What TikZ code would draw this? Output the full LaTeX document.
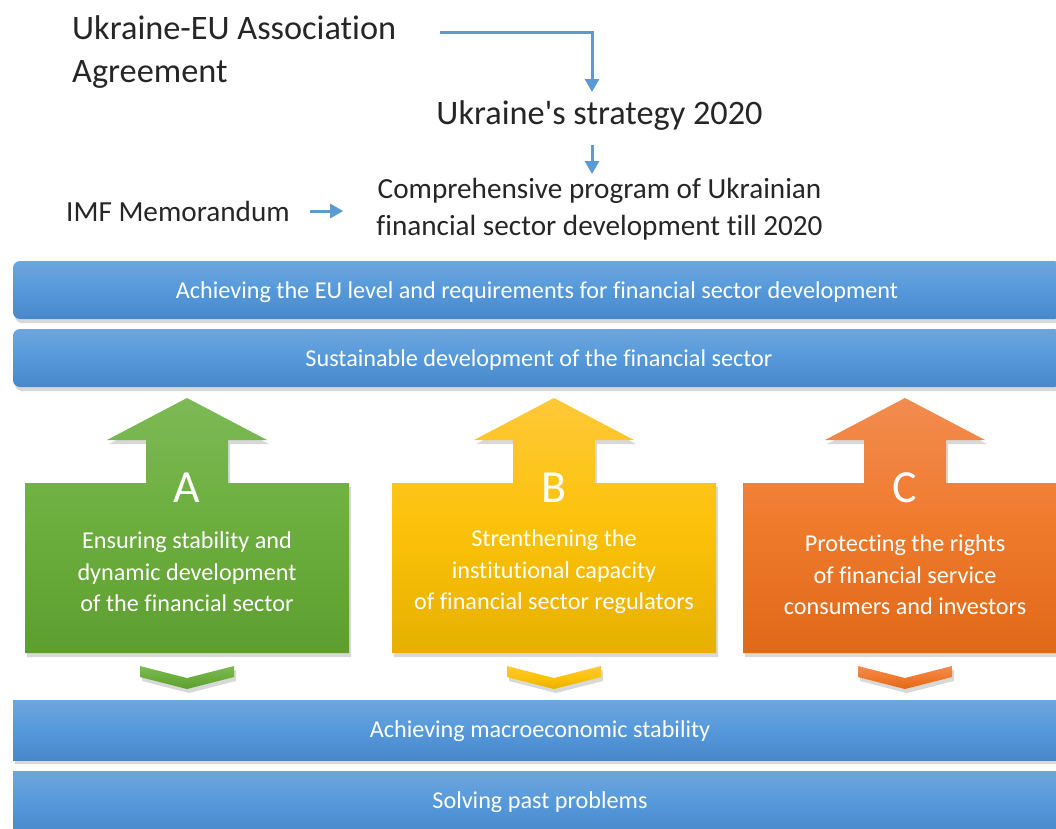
\documentclass[tikz,border=0pt]{standalone}
\usepackage{fontspec}
\setmainfont{Carlito}[Ligatures=NoCommon]
\newfontfamily\plaincarlito{Carlito}[Ligatures=NoCommon]
\usetikzlibrary{arrows.meta,shadows,calc}
\definecolor{txt}{HTML}{262626}
\definecolor{conn}{HTML}{5B9BD5}
\definecolor{bluetop}{HTML}{6EA6DD}
\definecolor{bluemid}{HTML}{5599DB}
\definecolor{bluebot}{HTML}{4887CA}
\definecolor{greentop}{HTML}{7DB955}
\definecolor{greenmid}{HTML}{6CAE3E}
\definecolor{greenbot}{HTML}{5E9E31}
\definecolor{yellowtop}{HTML}{FFC838}
\definecolor{yellowmid}{HTML}{FCC20A}
\definecolor{yellowbot}{HTML}{E6B000}
\definecolor{orangetop}{HTML}{F28C50}
\definecolor{orangemid}{HTML}{F07A2C}
\definecolor{orangebot}{HTML}{DF6918}
\tikzset{
  conn/.style={draw=conn, line width=3pt, -{Triangle[width=14pt,length=13pt]}},
  bigtext/.style={text=txt, inner sep=0pt, align=left, font=\fontsize{34.3}{43}\selectfont},
  midtext/.style={text=txt, inner sep=0pt, align=center, font=\fontsize{29.2}{37}\selectfont},
  bartext/.style={text=white, inner sep=0pt, font=\fontsize{24.2}{28}\selectfont},
  boxtext/.style={text=white, inner sep=0pt, align=center, font=\fontsize{24.2}{31.5}\selectfont},
  lettertext/.style={text=white, inner sep=0pt, font=\fontsize{46}{50}\selectfont},
  myshadow/.style={drop shadow={opacity=0.3, shadow xshift=2pt, shadow yshift=-4pt}},
  bar/.style={top color=bluetop, bottom color=bluebot, middle color=bluemid, myshadow},
  greenfill/.style={top color=greentop, bottom color=greenbot, middle color=greenmid, myshadow},
  yellowfill/.style={top color=yellowtop, bottom color=yellowbot, middle color=yellowmid, myshadow},
  orangefill/.style={top color=orangetop, bottom color=orangebot, middle color=orangemid, myshadow},
}
\newcommand{\upbox}[2]{%
  \path[#2] (#1-162,653) -- (#1-162,483) -- (#1-41,483) -- (#1-41,440) -- (#1-80,440) -- (#1,398)
  -- (#1+80,440) -- (#1+41,440) -- (#1+41,483) -- (#1+162,483) -- (#1+162,653) -- cycle;}
\newcommand{\chev}[2]{%
  \path[#2] (#1-47,666) -- (#1,678) -- (#1+47,666) -- (#1+47,677) -- (#1,689) -- (#1-47,677) -- cycle;}
\begin{document}
\begin{tikzpicture}[x=1pt,y=-1pt]
\useasboundingbox (0,0) rectangle (1056,828);
\fill[white] (0,0) rectangle (1056,828);
\begin{scope}
\clip (0,0) rectangle (1056,828);
% top texts
\node[bigtext, anchor=west] (ua) at (72,52) {Ukraine-EU Association\\Agreement};
\node[bigtext, anchor=center] (us) at (599.5,116) {Ukraine{\plaincarlito'}s strategy 2020};
\node[midtext] (comp) at (599.5,209) {Comprehensive program of Ukrainian\\financial sector development till 2020};
\node[midtext, anchor=west] (imf) at (66,211) {IMF Memorandum};
\coordinate (s1) at (440,32);
\coordinate (t1) at (592,92);
\coordinate (s2) at (592,145);
\coordinate (t2) at (592,174);
\draw[conn] (s1) -| (t1);
\draw[conn] (s2) -- (t2);
\draw[conn, shorten <=20pt, shorten >=33pt] (imf.east) -- (comp.west |- imf.east);
% bars
\path[bar, rounded corners=7pt] (13,261) rectangle (1061,319);
\node[bartext] (b1) at (537,292) {Achieving the EU level and requirements for financial sector development};
\path[bar, rounded corners=7pt] (13,329) rectangle (1061,387);
\node[bartext] (b2) at (539,360) {Sustainable development of the financial sector};
% up boxes
\upbox{187}{greenfill}
\upbox{554}{yellowfill}
\upbox{905}{orangefill}
\node[lettertext] (la) at (187,488) {A};
\node[lettertext] (lb) at (554,488) {B};
\node[lettertext] (lc) at (905,488) {C};
\node[boxtext] (ta) at (187,572) {Ensuring stability and\\dynamic development\\of the financial sector};
\node[boxtext] (tb) at (554,572) {Strenthening the\\institutional capacity\\of financial sector regulators};
\node[boxtext] (tc) at (905,575) {Protecting the rights\\of financial service\\consumers and investors};
% chevrons
\chev{187}{greenfill}
\chev{554}{yellowfill}
\chev{905}{orangefill}
% bottom bars
\path[bar] (13,700) rectangle (1061,760);
\node[bartext] (b3) at (540,731) {Achieving macroeconomic stability};
\path[bar] (13,771) rectangle (1061,835);
\node[bartext] (b4) at (540,802) {Solving past problems};
\end{scope}
\end{tikzpicture}
\end{document}
